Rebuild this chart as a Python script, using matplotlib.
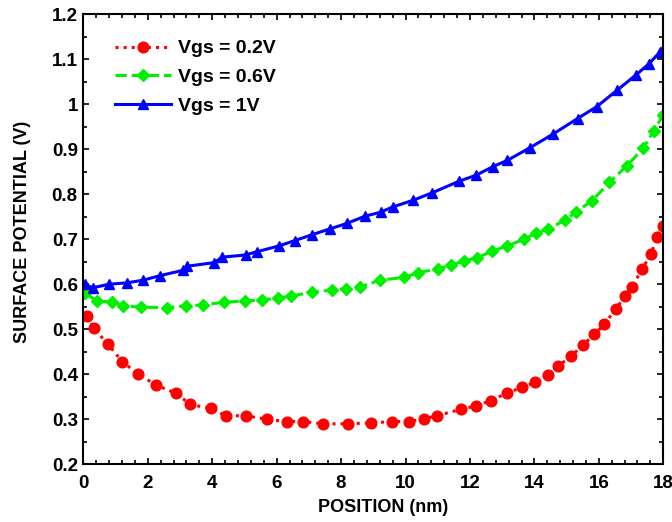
import numpy as np
import matplotlib
matplotlib.use("Agg")
import matplotlib.pyplot as plt
import matplotlib.ticker as ticker

plt.rcParams["font.family"] = ["Liberation Sans", "DejaVu Sans"]
plt.rcParams["font.weight"] = "bold"

# Vgs = 0.2 V
x_02 = [0.11, 0.33, 0.76, 1.21, 1.69, 2.26, 2.87, 3.32, 3.96, 4.42, 5.04, 5.69,
        6.31, 6.83, 7.45, 8.21, 8.93, 9.59, 10.12, 10.58, 10.97, 11.72, 12.19,
        12.64, 13.14, 13.62, 14.02, 14.41, 14.74, 15.13, 15.50, 15.86, 16.17,
        16.54, 16.81, 17.04, 17.34, 17.62, 17.80, 18.0]
y_02 = [0.529, 0.502, 0.467, 0.428, 0.401, 0.376, 0.358, 0.333, 0.324, 0.308,
        0.308, 0.300, 0.295, 0.295, 0.290, 0.290, 0.292, 0.295, 0.295, 0.301,
        0.308, 0.322, 0.330, 0.341, 0.358, 0.371, 0.382, 0.398, 0.418, 0.440,
        0.464, 0.489, 0.511, 0.546, 0.573, 0.594, 0.634, 0.666, 0.705, 0.730]

# Vgs = 0.6 V
x_06 = [0.05, 0.42, 0.90, 1.24, 1.78, 2.59, 3.19, 3.72, 4.38, 5.02, 5.54, 6.03,
        6.45, 7.11, 7.71, 8.14, 8.59, 9.21, 9.96, 10.40, 11.00, 11.40, 11.82,
        12.23, 12.68, 13.16, 13.67, 14.04, 14.43, 14.95, 15.28, 15.78, 16.33,
        16.87, 17.38, 17.71, 18.0]
y_06 = [0.580, 0.563, 0.560, 0.552, 0.549, 0.548, 0.552, 0.554, 0.560, 0.563,
        0.565, 0.569, 0.574, 0.582, 0.587, 0.590, 0.594, 0.609, 0.615, 0.626,
        0.634, 0.642, 0.652, 0.659, 0.673, 0.685, 0.700, 0.713, 0.723, 0.742,
        0.760, 0.785, 0.826, 0.863, 0.902, 0.941, 0.976]

# Vgs = 1 V
x_10 = [0.05, 0.29, 0.80, 1.35, 1.86, 2.38, 3.10, 3.23, 4.07, 4.30, 5.04, 5.38,
        6.07, 6.57, 7.10, 7.66, 8.18, 8.74, 9.23, 9.62, 10.22, 10.83, 11.67,
        12.19, 12.71, 13.16, 13.86, 14.57, 15.34, 15.93, 16.57, 17.14, 17.55,
        17.90, 18.0]
y_10 = [0.600, 0.592, 0.600, 0.603, 0.609, 0.619, 0.631, 0.640, 0.648, 0.660,
        0.665, 0.672, 0.685, 0.697, 0.710, 0.723, 0.735, 0.751, 0.760, 0.772,
        0.786, 0.803, 0.829, 0.842, 0.861, 0.875, 0.903, 0.933, 0.968, 0.994,
        1.031, 1.064, 1.089, 1.116, 1.122]

labels = ["Vgs = 0.2V", "Vgs = 0.6V", "Vgs = 1V"]

fig = plt.figure(figsize=(6.72, 5.22), dpi=100)
ax = fig.add_axes([0.124, 0.1105, 0.863, 0.8626])

ax.plot(x_02, y_02, ls=":", lw=2.2, color="#ff0000", marker="o", ms=7.7,
        label=labels[0])
ax.plot(x_06, y_06, ls="--", lw=2.2, color="#00f000", marker="D", ms=6.3,
        label=labels[1])
ax.plot(x_10, y_10, ls="-", lw=2.2, color="#0000ff", marker="^", ms=7.5,
        label=labels[2])

ax.set_xlim(0, 18)
ax.set_ylim(0.2, 1.2)
ax.xaxis.set_major_locator(ticker.MultipleLocator(2))
ax.xaxis.set_minor_locator(ticker.MultipleLocator(0.4))
ax.yaxis.set_major_locator(ticker.MultipleLocator(0.1))
ax.yaxis.set_minor_locator(ticker.MultipleLocator(0.05))
ax.yaxis.set_major_formatter(ticker.FuncFormatter(lambda v, p: f"{v:g}"))
ax.tick_params(which="both", direction="in", top=True, right=True, width=1.2)
ax.tick_params(which="major", length=4.2, labelsize=13.5)
ax.tick_params(axis="x", which="major", pad=7.5)
ax.tick_params(axis="y", which="major", pad=4)
ax.tick_params(which="minor", length=2.8)
for s in ax.spines.values():
    s.set_linewidth(1.5)

ax.set_xlabel("POSITION (nm)", fontsize=13, fontweight="bold")
ax.set_ylabel("SURFACE POTENTIAL (V)", fontsize=13, fontweight="bold")
ax.xaxis.set_label_coords(0.5176, -0.077)
ax.yaxis.set_label_coords(-0.090, 0.517)

ax.legend(loc="upper left", bbox_to_anchor=(0.0547, 0.943), frameon=False,
          fontsize=14, handlelength=2.86, handletextpad=0.39, labelspacing=0.57,
          borderpad=0, borderaxespad=0)

fig.savefig("out.png", dpi=100)
